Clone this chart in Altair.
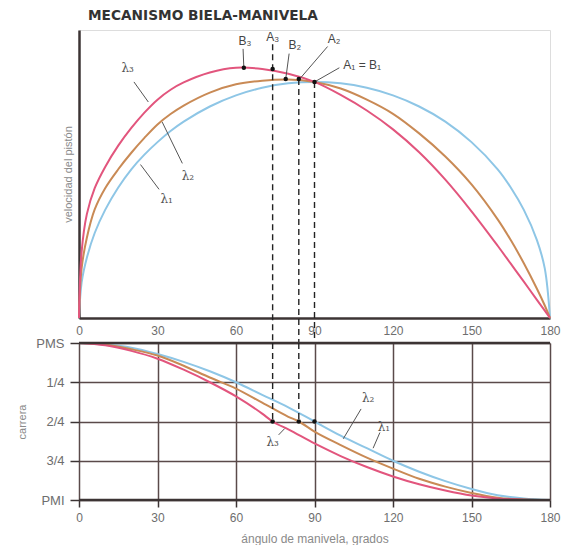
import altair as alt
import pandas as pd

# ---------------- data ----------------
series_names = ["λ1", "λ2", "λ3"]
series_colors = ["#8ec6e6", "#c98a55", "#e2557d"]

# top panel: piston velocity vs crank angle
top_angle = [0, 1, 3, 6, 10, 15, 20, 25, 30, 35, 40, 50, 60, 70, 80, 90,
             100, 110, 120, 130, 140, 150, 160, 165, 170, 175, 178, 180]
vel_l1 = [0, 0.15, 0.255, 0.36, 0.458, 0.553, 0.63, 0.692, 0.745, 0.792, 0.832, 0.896, 0.943, 0.975, 0.994, 1.0,
          0.994, 0.975, 0.943, 0.896, 0.832, 0.745, 0.63, 0.553, 0.458, 0.33, 0.21, 0]
vel_l2 = [0, 0.21, 0.34, 0.46, 0.55, 0.63, 0.70, 0.763, 0.82, 0.864, 0.90, 0.955, 0.99, 1.005, 1.01, 1.0,
          0.972, 0.925, 0.865, 0.782, 0.684, 0.566, 0.418, 0.33, 0.232, 0.124, 0.053, 0]
vel_l3 = [0, 0.28, 0.44, 0.55, 0.64, 0.73, 0.805, 0.87, 0.925, 0.967, 0.998, 1.04, 1.06, 1.055, 1.035, 1.0,
          0.945, 0.879, 0.799, 0.702, 0.586, 0.452, 0.306, 0.23, 0.154, 0.077, 0.031, 0]

# bottom panel: stroke (0 = PMS, 1 = PMI) vs crank angle
bot_angle_l1 = [0, 10, 20, 30, 40, 50, 60, 70, 80, 90, 100, 110, 120, 130, 140, 150, 160, 170, 180]
str_l1 = [0, 0.01, 0.03, 0.07, 0.12, 0.18, 0.25, 0.33, 0.41, 0.50, 0.59, 0.67, 0.75, 0.82, 0.88, 0.93, 0.97, 0.99, 1.0]
bot_angle_l2 = [0, 10, 20, 30, 40, 50, 60, 70, 80, 84, 90, 100, 110, 120, 130, 140, 150, 160, 170, 180]
str_l2 = [0, 0.01, 0.04, 0.08, 0.145, 0.22, 0.29, 0.38, 0.47, 0.50, 0.565, 0.65, 0.73, 0.80, 0.865, 0.915, 0.955, 0.985, 0.997, 1.0]
bot_angle_l3 = [0, 10, 20, 30, 40, 50, 60, 70, 74, 80, 90, 100, 110, 120, 130, 140, 150, 160, 170, 180]
str_l3 = [0, 0.015, 0.05, 0.10, 0.17, 0.25, 0.34, 0.45, 0.50, 0.55, 0.64, 0.72, 0.79, 0.85, 0.90, 0.94, 0.972, 0.99, 0.998, 1.0]

x_ticks = [0, 30, 60, 90, 120, 150, 180]
stroke_ticks = [0, 0.25, 0.5, 0.75, 1]
stroke_labels = ["PMS", "1/4", "2/4", "3/4", "PMI"]

# characteristic points: A (mid stroke) and B (max velocity)
pt_angle = [63, 74, 79, 84, 90]
pt_vel = [1.06, 1.055, 1.012, 1.012, 1.0]

# labels of top panel
top_lbl_text = ["B₃", "A₃", "B₂", "A₂", "A₁ = B₁"]
top_lbl_angle = [63.4, 74, 82.5, 97.5, 101]
top_lbl_vel = [1.175, 1.19, 1.155, 1.18, 1.07]
top_lbl_align = ["center", "center", "center", "center", "left"]
# leader lines top: from (a1,v1) to (a2,v2)
lead_a1 = [62.7, 80.3, 95.0, 99.5]
lead_v1 = [1.14, 1.12, 1.15, 1.06]
lead_a2 = [63, 79, 84.3, 90]
lead_v2 = [1.06, 1.012, 1.012, 1.0]

# lambda labels top
lam_top_text = ["λ₃", "λ₂", "λ₁"]
lam_top_angle = [18.6, 41.6, 33.5]
lam_top_vel = [1.06, 0.60, 0.505]
lam_top_a1 = [21.0, 31.8, 23.5]
lam_top_v1 = [1.00, 0.83, 0.65]
lam_top_a2 = [26.5, 39.5, 30.6]
lam_top_v2 = [0.915, 0.655, 0.545]

# dashed verticals
dash_angle = [74, 84, 90]
dash_top_vel = [1.16, 1.012, 1.0]
dash_bot_angle = [74, 84]

# bottom dots / labels
bot_pt_angle = [74, 84, 90]
bot_pt_stroke = [0.5, 0.5, 0.5]
lam_bot_text = ["λ₂", "λ₁", "λ₃"]
lam_bot_angle = [110.5, 116.5, 74.0]
lam_bot_stroke = [0.35, 0.535, 0.63]
lam_bot_a1 = [101.0, 112.4, 78.6]
lam_bot_s1 = [0.61, 0.67, 0.545]
lam_bot_a2 = [107.8, 115.0, 76.3]
lam_bot_s2 = [0.42, 0.57, 0.585]

TITLE = "MECANISMO BIELA-MANIVELA"

# ---------------- tables ----------------
rows = []
for name, vals in zip(series_names, [vel_l1, vel_l2, vel_l3]):
    for a, v in zip(top_angle, vals):
        rows.append({"angle": a, "v": v, "curve": name})
df_top = pd.DataFrame(rows)

rows = []
for name, ang, vals in zip(series_names, [bot_angle_l1, bot_angle_l2, bot_angle_l3], [str_l1, str_l2, str_l3]):
    for a, s in zip(ang, vals):
        rows.append({"angle": a, "s": s, "curve": name})
df_bot = pd.DataFrame(rows)

FONT = "Liberation Sans"
AX = "#3c3434"
LBL = "#6e6e6e"
GRID = "#5a4a4a"
W, H_TOP, H_BOT = 471, 288, 157

color = alt.Color("curve:N", scale=alt.Scale(domain=series_names, range=series_colors), legend=None)
xs = alt.Scale(domain=[0, 180], nice=False, zero=False)
ys_top = alt.Scale(domain=[0, 1.22], nice=False)
ys_bot = alt.Scale(domain=[0, 1], nice=False, reverse=True)

# ---------------- top panel ----------------
top_lines = alt.Chart(df_top).mark_line(strokeWidth=2, interpolate="catmull-rom").encode(
    x=alt.X("angle:Q", scale=xs, axis=alt.Axis(values=x_ticks, tickCount=20, ticks=False, grid=False, title=None,
                                                 labelPadding=7, labelFontSize=12, labelColor=LBL,
                                                 labelFlush=False, domainColor=AX, domainWidth=2.5,
                                                 labelFont=FONT)),
    y=alt.Y("v:Q", scale=ys_top, axis=alt.Axis(labels=False, ticks=False, grid=False,
                                               title="velocidad del pistón", titleFontSize=11,
                                               titleFontWeight="normal", titleColor="#8a8a8a",
                                               titlePadding=6, domainColor=AX, domainWidth=2.5,
                                               titleFont=FONT)),
    color=color,
)

dash_df = pd.DataFrame({"angle": dash_angle, "v": dash_top_vel})
top_dash = alt.Chart(dash_df).mark_rule(color="#222", strokeWidth=1.4, strokeDash=[6, 4]).encode(
    x="angle:Q", y="v:Q", y2=alt.value(H_TOP + 25)
)

pts_df = pd.DataFrame({"angle": pt_angle, "v": pt_vel})
top_pts = alt.Chart(pts_df).mark_circle(color="#111", size=20, opacity=1).encode(x="angle:Q", y="v:Q")

lead_df = pd.DataFrame({"a1": lead_a1 + lam_top_a1, "v1": lead_v1 + lam_top_v1,
                        "a2": lead_a2 + lam_top_a2, "v2": lead_v2 + lam_top_v2})
top_lead = alt.Chart(lead_df).mark_rule(color="#555", strokeWidth=1).encode(
    x="a1:Q", y="v1:Q", x2="a2:Q", y2="v2:Q"
)

lbl_df = pd.DataFrame({"angle": top_lbl_angle, "v": top_lbl_vel, "t": top_lbl_text, "al": top_lbl_align})
top_lbl_c = alt.Chart(lbl_df[lbl_df.al == "center"]).mark_text(
    font=FONT, fontSize=12, color="#444", align="center", baseline="middle"
).encode(x="angle:Q", y="v:Q", text="t:N")
top_lbl_l = alt.Chart(lbl_df[lbl_df.al == "left"]).mark_text(
    font=FONT, fontSize=12, color="#444", align="left", baseline="middle"
).encode(x="angle:Q", y="v:Q", text="t:N")

lam_df = pd.DataFrame({"angle": lam_top_angle, "v": lam_top_vel, "t": lam_top_text})
top_lam = alt.Chart(lam_df).mark_text(
    font="DejaVu Serif", fontSize=12, color="#555", align="center", baseline="middle"
).encode(x="angle:Q", y="v:Q", text="t:N")

title_df = pd.DataFrame({"t": [TITLE]})
top_title = alt.Chart(title_df).mark_text(
    font="DejaVu Sans", fontSize=13.7, fontWeight="bold", color="#333", align="left", baseline="middle"
).encode(x=alt.value(9), y=alt.value(-14), text="t:N")

top = alt.layer(top_lines, top_dash, top_lead, top_pts, top_lbl_c, top_lbl_l, top_lam, top_title).properties(
    width=W, height=H_TOP
)

# ---------------- bottom panel ----------------
label_expr = " : ".join(
    [f"datum.value == {v} ? '{l}'" for v, l in zip(stroke_ticks[:-1], stroke_labels[:-1])]
) + f" : '{stroke_labels[-1]}'"

bot_lines = alt.Chart(df_bot).mark_line(strokeWidth=2, interpolate="monotone").encode(
    x=alt.X("angle:Q", scale=xs, axis=alt.Axis(values=x_ticks, tickCount=20, grid=True, gridColor=GRID,
                                                 gridWidth=1.5, gridOpacity=1, tickSize=7, tickColor=AX,
                                                 tickWidth=1.5, labelPadding=5, labelFontSize=12,
                                                 labelColor=LBL, labelFlush=False, domain=False,
                                                 labelFont=FONT, title="ángulo de manivela, grados",
                                                 titleFontSize=12, titleFontWeight="normal",
                                                 titleColor="#8a8a8a", titlePadding=10, titleFont=FONT)),
    y=alt.Y("s:Q", scale=ys_bot, axis=alt.Axis(values=stroke_ticks, tickCount=20, labelExpr=label_expr,
                                               grid=True, gridColor=GRID, gridWidth=1.5, gridOpacity=1,
                                               tickSize=9, tickColor=AX, tickWidth=1.5, labelPadding=6,
                                               labelFontSize=13, labelColor=LBL, domain=False,
                                               labelOverlap=False,
                                               labelFont=FONT, title="carrera", titleFontSize=11,
                                               titleFontWeight="normal", titleColor="#8a8a8a",
                                               titlePadding=8, titleFont=FONT)),
    color=color,
)

frame_df = pd.DataFrame({"s": [0, 1]})
bot_frame = alt.Chart(frame_df).mark_rule(color=AX, strokeWidth=2.5).encode(
    y="s:Q", x=alt.value(0), x2=alt.value(W)
)

bdash_df = pd.DataFrame({"angle": dash_bot_angle, "s": [0] * len(dash_bot_angle), "s1": [0.5] * len(dash_bot_angle)})
bot_dash = alt.Chart(bdash_df).mark_rule(color="#222", strokeWidth=1.4, strokeDash=[6, 4]).encode(
    x="angle:Q", y="s:Q", y2="s1:Q"
)

bpts_df = pd.DataFrame({"angle": bot_pt_angle, "s": bot_pt_stroke})
bot_pts = alt.Chart(bpts_df).mark_circle(color="#111", size=20, opacity=1).encode(x="angle:Q", y="s:Q")

blead_df = pd.DataFrame({"angle": lam_bot_a1, "s": lam_bot_s1, "a2": lam_bot_a2, "s2": lam_bot_s2})
bot_lead = alt.Chart(blead_df).mark_rule(color="#555", strokeWidth=1).encode(
    x="angle:Q", y="s:Q", x2="a2:Q", y2="s2:Q"
)

blam_df = pd.DataFrame({"angle": lam_bot_angle, "s": lam_bot_stroke, "t": lam_bot_text})
bot_lam = alt.Chart(blam_df).mark_text(
    font="DejaVu Serif", fontSize=12, color="#555", align="center", baseline="middle"
).encode(x="angle:Q", y="s:Q", text="t:N")

bottom = alt.layer(bot_lines, bot_frame, bot_dash, bot_lead, bot_pts, bot_lam).properties(
    width=W, height=H_BOT
)

chart = alt.vconcat(top, bottom, spacing=25, bounds="flush").properties(
    padding={"left": 8, "top": 0, "right": 0, "bottom": 0}
).configure_view(stroke=None).configure(font=FONT, background="white")

chart.save("out.html", embed_options={"renderer": "svg", "actions": False})
